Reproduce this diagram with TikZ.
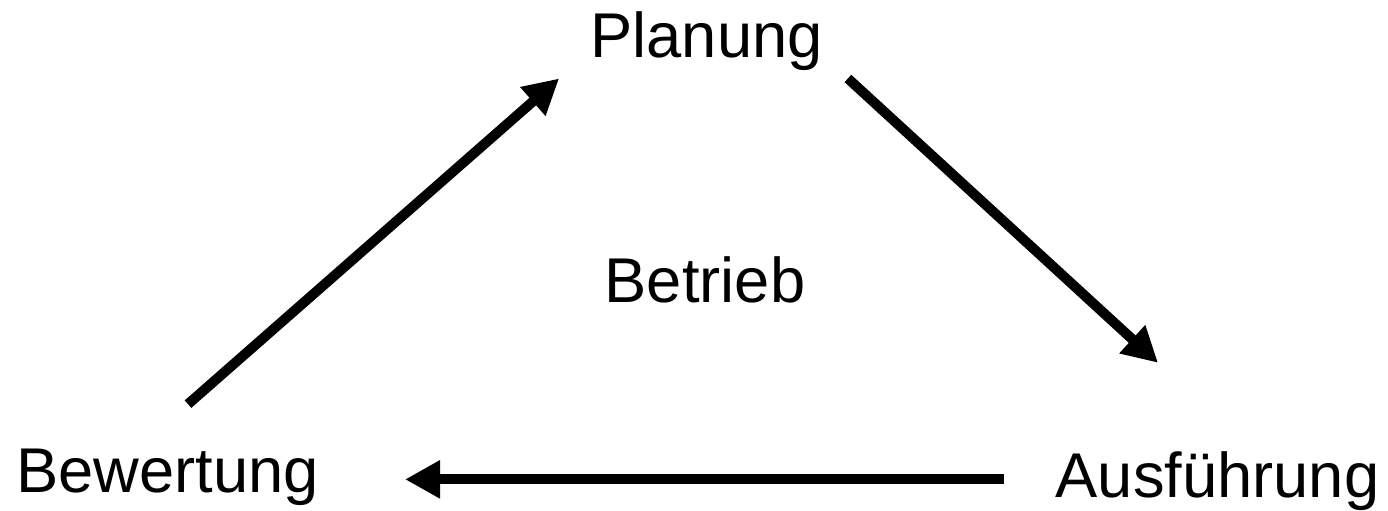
\documentclass[tikz,border=0pt]{standalone}
\usepackage{fontspec}
\setmainfont{Liberation Sans}
\usepackage{tikz}
\usetikzlibrary{arrows.meta}

\tikzset{
  label/.style={color=black,inner sep=0pt,anchor=base,font=\fontsize{36}{43}\selectfont},
  flow/.style={-{Triangle[length=0.7cm,width=0.72cm]},line width=0.2cm,color=black}
}

\begin{document}
\begin{tikzpicture}[x=0.02cm,y=-0.02cm]
\useasboundingbox (0,0) rectangle (1388,510);

\node [label] (plan) at (706.5,58) {Planung};
\node [label] (betr) at (705,302) {Betrieb};
\node [label] (bew) at (167.5,492) {Bewertung};
\node [label] (aus) at (1217.5,497) {Ausführung};

\draw [flow] ([shift={(20.5,-44)}]bew.north) -- ([shift={(-31,7)}]plan.south west);
\draw [flow] ([shift={(25,7)}]plan.south east) -- ([shift={(-59.5,-88)}]aus.north);
\draw [flow] ([shift={(-51,-13)}]aus.mid west) -- ([shift={(86,-8)}]bew.mid east);

\end{tikzpicture}
\end{document}
